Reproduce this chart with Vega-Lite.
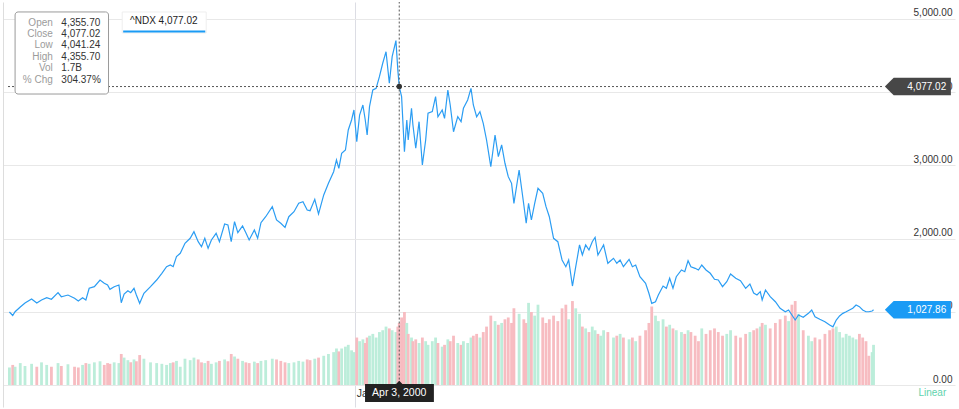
{
"$schema": "https://vega.github.io/schema/vega-lite/v6.json",
"width": 952, "height": 405,
"autosize": {"type": "none"},
"padding": {"left": 3, "top": 2, "right": 4, "bottom": 2},
"background": "white",
"config": {"font": "Liberation Sans", "view": {"stroke": null}},
"datasets": {
"p": [
{"t":"1997-12-29","c":997,"v":0.48,"u":1},{"t":"1998-01-05","c":950,"v":0.55,"u":0},{"t":"1998-01-10","c":1001,"v":0.5,"u":1},{"t":"1998-01-21","c":1066,"v":0.6,"u":1},{"t":"1998-01-31","c":1120,"v":0.52,"u":1},{"t":"1998-02-14","c":1175,"v":0.58,"u":1},{"t":"1998-02-25","c":1120,"v":0.5,"u":0},{"t":"1998-03-07","c":1161,"v":0.62,"u":1},{"t":"1998-03-18","c":1193,"v":0.55,"u":1},{"t":"1998-03-28","c":1171,"v":0.5,"u":0},
{"t":"1998-04-11","c":1261,"v":0.6,"u":1},{"t":"1998-04-18","c":1206,"v":0.52,"u":0},{"t":"1998-05-02","c":1229,"v":0.57,"u":1},{"t":"1998-05-16","c":1184,"v":0.5,"u":0},{"t":"1998-05-24","c":1148,"v":0.48,"u":0},{"t":"1998-06-02","c":1193,"v":0.55,"u":1},{"t":"1998-06-09","c":1161,"v":0.6,"u":0},{"t":"1998-06-16","c":1321,"v":0.58,"u":1},{"t":"1998-06-27","c":1343,"v":0.62,"u":1},{"t":"1998-07-09","c":1434,"v":0.65,"u":1},
{"t":"1998-07-18","c":1389,"v":0.55,"u":0},{"t":"1998-07-25","c":1366,"v":0.6,"u":0},{"t":"1998-07-30","c":1307,"v":0.58,"u":0},{"t":"1998-08-08","c":1343,"v":0.62,"u":1},{"t":"1998-08-18","c":1366,"v":0.6,"u":1},{"t":"1998-08-23","c":1124,"v":0.85,"u":0},{"t":"1998-08-29","c":1243,"v":0.75,"u":1},{"t":"1998-09-06","c":1288,"v":0.68,"u":1},{"t":"1998-09-12","c":1261,"v":0.62,"u":0},{"t":"1998-09-19","c":1321,"v":0.7,"u":1},
{"t":"1998-09-24","c":1229,"v":0.65,"u":0},{"t":"1998-10-01","c":1116,"v":0.82,"u":0},{"t":"1998-10-10","c":1253,"v":0.72,"u":1},{"t":"1998-10-24","c":1343,"v":0.62,"u":1},{"t":"1998-11-06","c":1434,"v":0.6,"u":1},{"t":"1998-11-17","c":1526,"v":0.58,"u":1},{"t":"1998-11-27","c":1616,"v":0.55,"u":1},{"t":"1998-12-05","c":1639,"v":0.6,"u":1},{"t":"1998-12-11","c":1616,"v":0.62,"u":0},{"t":"1998-12-18","c":1753,"v":0.66,"u":1},
{"t":"1998-12-26","c":1799,"v":0.5,"u":1},{"t":"1999-01-05","c":1936,"v":0.72,"u":1},{"t":"1999-01-16","c":2004,"v":0.68,"u":1},{"t":"1999-01-24","c":2094,"v":0.75,"u":1},{"t":"1999-02-02","c":1958,"v":0.7,"u":0},{"t":"1999-02-09","c":1889,"v":0.62,"u":0},{"t":"1999-02-16","c":2004,"v":0.6,"u":1},{"t":"1999-02-23","c":1867,"v":0.66,"u":0},{"t":"1999-03-02","c":1981,"v":0.58,"u":1},{"t":"1999-03-12","c":2072,"v":0.62,"u":1},
{"t":"1999-03-19","c":1958,"v":0.66,"u":0},{"t":"1999-03-30","c":2199,"v":0.7,"u":1},{"t":"1999-04-06","c":2186,"v":0.65,"u":0},{"t":"1999-04-13","c":1958,"v":0.85,"u":0},{"t":"1999-04-20","c":2231,"v":0.78,"u":1},{"t":"1999-04-27","c":2081,"v":0.72,"u":0},{"t":"1999-05-07","c":2172,"v":0.66,"u":1},{"t":"1999-05-14","c":2081,"v":0.62,"u":0},{"t":"1999-05-21","c":1981,"v":0.6,"u":0},{"t":"1999-06-01","c":2117,"v":0.64,"u":1},
{"t":"1999-06-08","c":2004,"v":0.6,"u":0},{"t":"1999-06-15","c":2217,"v":0.66,"u":1},{"t":"1999-06-25","c":2299,"v":0.68,"u":1},{"t":"1999-07-09","c":2436,"v":0.72,"u":1},{"t":"1999-07-18","c":2254,"v":0.7,"u":0},{"t":"1999-07-27","c":2209,"v":0.66,"u":0},{"t":"1999-08-05","c":2154,"v":0.62,"u":0},{"t":"1999-08-13","c":2299,"v":0.6,"u":1},{"t":"1999-08-24","c":2367,"v":0.62,"u":1},{"t":"1999-09-03","c":2482,"v":0.66,"u":1},
{"t":"1999-09-12","c":2504,"v":0.64,"u":1},{"t":"1999-09-21","c":2391,"v":0.7,"u":0},{"t":"1999-09-27","c":2381,"v":0.68,"u":0},{"t":"1999-10-07","c":2537,"v":0.72,"u":1},{"t":"1999-10-15","c":2336,"v":0.75,"u":0},{"t":"1999-10-26","c":2596,"v":0.8,"u":1},{"t":"1999-11-05","c":2755,"v":0.85,"u":1},{"t":"1999-11-16","c":2914,"v":0.9,"u":1},{"t":"1999-11-22","c":3074,"v":1.0,"u":1},{"t":"1999-11-27","c":2960,"v":0.92,"u":0},
{"t":"1999-12-03","c":3165,"v":1.0,"u":1},{"t":"1999-12-11","c":3210,"v":1.05,"u":1},{"t":"1999-12-17","c":3484,"v":1.1,"u":1},{"t":"1999-12-24","c":3620,"v":0.95,"u":1},{"t":"1999-12-29","c":3757,"v":0.9,"u":1},{"t":"2000-01-04","c":3324,"v":1.3,"u":0},{"t":"2000-01-10","c":3688,"v":1.2,"u":1},{"t":"2000-01-17","c":3825,"v":1.25,"u":1},{"t":"2000-01-22","c":3620,"v":1.15,"u":0},{"t":"2000-01-26","c":3415,"v":1.3,"u":0},
{"t":"2000-01-31","c":3802,"v":1.35,"u":1},{"t":"2000-02-07","c":4030,"v":1.4,"u":1},{"t":"2000-02-14","c":4053,"v":1.3,"u":1},{"t":"2000-02-21","c":4212,"v":1.45,"u":1},{"t":"2000-02-28","c":4395,"v":1.5,"u":1},{"t":"2000-03-06","c":4553,"v":1.6,"u":1},{"t":"2000-03-13","c":4122,"v":1.55,"u":0},{"t":"2000-03-19","c":4485,"v":1.5,"u":1},{"t":"2000-03-27","c":4704,"v":1.45,"u":1},{"t":"2000-03-31","c":4303,"v":1.6,"u":0},
{"t":"2000-04-03","c":4077.02,"v":1.7,"u":0},{"t":"2000-04-08","c":3939,"v":1.85,"u":0},{"t":"2000-04-14","c":3187,"v":2.0,"u":0},{"t":"2000-04-19","c":3620,"v":1.7,"u":1},{"t":"2000-04-22","c":3347,"v":1.4,"u":0},{"t":"2000-04-29","c":3780,"v":1.3,"u":1},{"t":"2000-05-02","c":3552,"v":1.2,"u":0},{"t":"2000-05-08","c":3234,"v":1.25,"u":0},{"t":"2000-05-15","c":3597,"v":1.15,"u":1},{"t":"2000-05-22","c":3005,"v":1.3,"u":0},
{"t":"2000-05-29","c":3347,"v":1.2,"u":1},{"t":"2000-06-03","c":3712,"v":1.1,"u":1},{"t":"2000-06-12","c":3734,"v":1.2,"u":1},{"t":"2000-06-19","c":3939,"v":1.3,"u":1},{"t":"2000-06-24","c":3665,"v":1.15,"u":0},{"t":"2000-07-03","c":3757,"v":1.05,"u":1},{"t":"2000-07-08","c":3643,"v":1.1,"u":0},{"t":"2000-07-15","c":4030,"v":1.25,"u":1},{"t":"2000-07-20","c":3825,"v":1.2,"u":0},{"t":"2000-07-27","c":3460,"v":1.35,"u":0},
{"t":"2000-08-05","c":3665,"v":1.15,"u":1},{"t":"2000-08-12","c":3597,"v":1.1,"u":0},{"t":"2000-08-17","c":3780,"v":1.2,"u":1},{"t":"2000-08-26","c":3893,"v":1.15,"u":1},{"t":"2000-09-02","c":4053,"v":1.3,"u":1},{"t":"2000-09-07","c":3825,"v":1.35,"u":0},{"t":"2000-09-14","c":3665,"v":1.4,"u":0},{"t":"2000-09-21","c":3734,"v":1.3,"u":1},{"t":"2000-09-28","c":3575,"v":1.45,"u":0},{"t":"2000-10-05","c":3347,"v":1.6,"u":0},
{"t":"2000-10-14","c":2982,"v":1.9,"u":0},{"t":"2000-10-23","c":3415,"v":1.75,"u":1},{"t":"2000-10-30","c":3119,"v":1.65,"u":0},{"t":"2000-11-06","c":3279,"v":1.7,"u":1},{"t":"2000-11-13","c":3029,"v":1.8,"u":0},{"t":"2000-11-20","c":2846,"v":1.85,"u":0},{"t":"2000-11-27","c":2755,"v":1.7,"u":0},{"t":"2000-12-02","c":2482,"v":2.1,"u":0},{"t":"2000-12-13","c":2937,"v":1.95,"u":1},{"t":"2000-12-23","c":2459,"v":1.8,"u":0},
{"t":"2000-12-28","c":2209,"v":1.7,"u":0},{"t":"2001-01-02","c":2482,"v":2.25,"u":1},{"t":"2001-01-08","c":2254,"v":2.0,"u":0},{"t":"2001-01-15","c":2482,"v":1.9,"u":1},{"t":"2001-01-22","c":2687,"v":2.2,"u":1},{"t":"2001-02-01","c":2619,"v":1.85,"u":0},{"t":"2001-02-08","c":2436,"v":1.7,"u":0},{"t":"2001-02-15","c":2299,"v":1.8,"u":0},{"t":"2001-02-24","c":2004,"v":1.9,"u":0},{"t":"2001-03-05","c":1958,"v":1.75,"u":0},
{"t":"2001-03-14","c":1708,"v":2.1,"u":0},{"t":"2001-03-22","c":1616,"v":2.2,"u":0},{"t":"2001-03-28","c":1708,"v":1.8,"u":1},{"t":"2001-04-05","c":1352,"v":2.3,"u":0},{"t":"2001-04-12","c":1616,"v":2.1,"u":1},{"t":"2001-04-20","c":1913,"v":1.95,"u":1},{"t":"2001-04-26","c":1776,"v":1.6,"u":0},{"t":"2001-05-03","c":1913,"v":1.55,"u":1},{"t":"2001-05-10","c":1844,"v":1.45,"u":0},{"t":"2001-05-17","c":1958,"v":1.6,"u":1},
{"t":"2001-05-23","c":2018,"v":1.5,"u":1},{"t":"2001-05-29","c":1776,"v":1.4,"u":0},{"t":"2001-06-04","c":1844,"v":1.35,"u":1},{"t":"2001-06-10","c":1913,"v":1.5,"u":1},{"t":"2001-06-19","c":1663,"v":1.45,"u":0},{"t":"2001-07-01","c":1731,"v":1.3,"u":1},{"t":"2001-07-08","c":1663,"v":1.35,"u":0},{"t":"2001-07-15","c":1708,"v":1.4,"u":1},{"t":"2001-07-22","c":1616,"v":1.3,"u":0},{"t":"2001-08-03","c":1717,"v":1.25,"u":1},
{"t":"2001-08-10","c":1616,"v":1.3,"u":0},{"t":"2001-08-17","c":1639,"v":1.2,"u":1},{"t":"2001-08-26","c":1479,"v":1.35,"u":0},{"t":"2001-09-07","c":1389,"v":1.5,"u":0},{"t":"2001-09-14","c":1253,"v":1.7,"u":0},{"t":"2001-09-20","c":1116,"v":2.15,"u":0},{"t":"2001-09-28","c":1138,"v":1.9,"u":1},{"t":"2001-10-04","c":1229,"v":1.75,"u":1},{"t":"2001-10-14","c":1352,"v":1.8,"u":1},{"t":"2001-10-21","c":1321,"v":1.6,"u":0},
{"t":"2001-10-28","c":1458,"v":1.65,"u":1},{"t":"2001-11-04","c":1321,"v":1.55,"u":0},{"t":"2001-11-11","c":1479,"v":1.5,"u":1},{"t":"2001-11-22","c":1571,"v":1.45,"u":1},{"t":"2001-11-29","c":1548,"v":1.4,"u":0},{"t":"2001-12-06","c":1698,"v":1.5,"u":1},{"t":"2001-12-12","c":1616,"v":1.45,"u":0},{"t":"2001-12-21","c":1594,"v":1.35,"u":0},{"t":"2001-12-28","c":1571,"v":1.2,"u":0},{"t":"2002-01-04","c":1639,"v":1.55,"u":1},
{"t":"2002-01-13","c":1571,"v":1.4,"u":0},{"t":"2002-01-22","c":1526,"v":1.5,"u":0},{"t":"2002-01-31","c":1444,"v":1.55,"u":0},{"t":"2002-02-08","c":1434,"v":1.45,"u":0},{"t":"2002-02-17","c":1343,"v":1.35,"u":0},{"t":"2002-02-26","c":1411,"v":1.4,"u":1},{"t":"2002-03-06","c":1516,"v":1.5,"u":1},{"t":"2002-03-17","c":1458,"v":1.35,"u":0},{"t":"2002-03-27","c":1425,"v":1.3,"u":0},{"t":"2002-04-07","c":1321,"v":1.4,"u":0},
{"t":"2002-04-16","c":1380,"v":1.45,"u":1},{"t":"2002-04-24","c":1257,"v":1.5,"u":0},{"t":"2002-05-01","c":1229,"v":1.55,"u":0},{"t":"2002-05-08","c":1275,"v":1.6,"u":1},{"t":"2002-05-12","c":1161,"v":1.7,"u":0},{"t":"2002-05-19","c":1298,"v":1.65,"u":1},{"t":"2002-05-29","c":1206,"v":1.55,"u":0},{"t":"2002-06-09","c":1138,"v":1.7,"u":0},{"t":"2002-06-19","c":1048,"v":1.8,"u":0},{"t":"2002-06-30","c":1001,"v":1.9,"u":0},
{"t":"2002-07-07","c":1025,"v":1.75,"u":1},{"t":"2002-07-14","c":956,"v":2.2,"u":0},{"t":"2002-07-21","c":888,"v":2.3,"u":0},{"t":"2002-07-28","c":956,"v":1.95,"u":1},{"t":"2002-08-07","c":925,"v":1.5,"u":0},{"t":"2002-08-18","c":979,"v":1.35,"u":1},{"t":"2002-08-25","c":1025,"v":1.2,"u":1},{"t":"2002-09-01","c":933,"v":1.3,"u":0},{"t":"2002-09-11","c":898,"v":1.25,"u":0},{"t":"2002-09-22","c":865,"v":1.4,"u":0},
{"t":"2002-10-02","c":820,"v":1.5,"u":0},{"t":"2002-10-09","c":795,"v":1.55,"u":0},{"t":"2002-10-16","c":888,"v":1.6,"u":1},{"t":"2002-10-23","c":943,"v":1.45,"u":1},{"t":"2002-10-30","c":979,"v":1.3,"u":1},{"t":"2002-11-06","c":1001,"v":1.4,"u":1},{"t":"2002-11-13","c":1025,"v":1.35,"u":1},{"t":"2002-11-20","c":1048,"v":1.3,"u":1},{"t":"2002-11-27","c":1093,"v":1.25,"u":1},{"t":"2002-12-04","c":1070,"v":1.4,"u":0},
{"t":"2002-12-11","c":1025,"v":1.3,"u":0},{"t":"2002-12-18","c":1001,"v":1.2,"u":0},{"t":"2002-12-24","c":1001,"v":0.8,"u":0},{"t":"2002-12-31","c":1010,"v":0.9,"u":1},{"t":"2003-01-03","c":1027.86,"v":1.1,"u":1}
]
},
"layer": [
{
"data": {"name": "p"},
"mark": {"type": "bar", "size": 2.8},
"encoding": {
"x": {"field": "t", "type": "temporal", "title": null, "scale": {"domain": [{"year": 1997, "month": 12, "date": 26}, {"year": 2003, "month": 6, "date": 14}], "nice": false}},
"y": {"field": "v", "type": "quantitative", "title": null, "scale": {"domain": [-0.603, 10.493], "nice": false, "zero": false}, "axis": {"orient": "left", "labels": false, "ticks": false, "grid": false, "domain": true, "domainColor": "#dddddd", "title": null}},
"y2": {"datum": 0},
"color": {"field": "u", "type": "nominal", "scale": {"domain": [0, 1], "range": ["#f7bcc1", "#bcedda"]}, "legend": null}
}
},
{
"layer": [
{
"data": {"name": "p"},
"mark": {"type": "line", "color": "#2b9df3", "strokeWidth": 1.2},
"encoding": {
"x": {"field": "t", "type": "temporal", "title": null, "scale": {"domain": [{"year": 1997, "month": 12, "date": 26}, {"year": 2003, "month": 6, "date": 14}], "nice": false},
"axis": {"values": [{"year": 2000, "month": 1, "date": 1}], "format": "%b %Y", "labelAlign": "left", "labelOffset": 1, "labelPadding": -14, "labelBaseline": "middle", "labelColor": "#333333", "labelFontSize": 10.5, "ticks": false, "domain": false, "grid": true, "gridColor": "#dcdde4", "title": null}},
"y": {"field": "c", "type": "quantitative", "title": null, "scale": {"domain": [-300.5, 5232], "nice": false, "zero": false},
"axis": {"orient": "right", "values": [0, 1000, 2000, 3000, 4000, 5000], "format": ",.2f", "labelAlign": "right", "labelPadding": -3, "labelBaseline": "alphabetic", "labelOffset": -3, "labelColor": "#333333", "labelFontSize": 10, "labelOverlap": false, "ticks": false, "domain": false, "grid": true, "gridColor": "#e8e8e8", "title": null}}
}
},
{
"data": {"values": [{"t": "2000-04-03", "c": 20, "c2": 5232}]},
"mark": {"type": "rule", "color": "#555555", "strokeDash": [2, 2], "strokeWidth": 1},
"encoding": {"x": {"field": "t", "type": "temporal", "title": null}, "y": {"field": "c", "type": "quantitative", "title": null}, "y2": {"field": "c2"}}
},
{
"data": {"values": [{"t": "1997-12-26", "t2": "2003-01-24", "c": 4077.02}]},
"mark": {"type": "rule", "color": "#555555", "strokeDash": [2, 2], "strokeWidth": 1},
"encoding": {"x": {"field": "t", "type": "temporal", "title": null}, "x2": {"field": "t2"}, "y": {"field": "c", "type": "quantitative", "title": null}}
},
{
"data": {"values": [{"t": "2000-04-03", "c": 4077.02}]},
"mark": {"type": "point", "filled": true, "color": "#333333", "size": 30, "opacity": 1},
"encoding": {"x": {"field": "t", "type": "temporal", "title": null}, "y": {"field": "c", "type": "quantitative", "title": null}}
},
{
"data": {"values": [{"t": "1998-01-10", "t2": "1998-07-27", "c": 5096, "c2": 3975}]},
"mark": {"type": "rect", "fill": "white", "stroke": "#9a9a9a", "strokeWidth": 1, "cornerRadius": 3},
"encoding": {"x": {"field": "t", "type": "temporal", "title": null}, "x2": {"field": "t2"}, "y": {"field": "c", "type": "quantitative", "title": null}, "y2": {"field": "c2"}}
},
{
"data": {"values": [{"t": "1998-03-31", "c": 4949, "s": "Open"}, {"t": "1998-03-31", "c": 4799, "s": "Close"}, {"t": "1998-03-31", "c": 4641, "s": "Low"}, {"t": "1998-03-31", "c": 4485, "s": "High"}, {"t": "1998-03-31", "c": 4326, "s": "Vol"}, {"t": "1998-03-31", "c": 4167, "s": "% Chg"}]},
"mark": {"type": "text", "align": "right", "baseline": "middle", "fontSize": 10, "color": "#9b9b9b"},
"encoding": {"x": {"field": "t", "type": "temporal", "title": null}, "y": {"field": "c", "type": "quantitative", "title": null}, "text": {"field": "s"}}
},
{
"data": {"values": [{"t": "1998-04-18", "c": 4949, "s": "4,355.70"}, {"t": "1998-04-18", "c": 4799, "s": "4,077.02"}, {"t": "1998-04-18", "c": 4641, "s": "4,041.24"}, {"t": "1998-04-18", "c": 4485, "s": "4,355.70"}, {"t": "1998-04-18", "c": 4326, "s": "1.7B"}, {"t": "1998-04-18", "c": 4167, "s": "304.37%"}]},
"mark": {"type": "text", "align": "left", "baseline": "middle", "fontSize": 10, "color": "#333333"},
"encoding": {"x": {"field": "t", "type": "temporal", "title": null}, "y": {"field": "c", "type": "quantitative", "title": null}, "text": {"field": "s"}}
},
{
"data": {"values": [{"t": "1998-08-25", "t2": "1999-02-19", "c": 5096, "c2": 4809}]},
"mark": {"type": "rect", "fill": "white", "stroke": "#eeeeee", "strokeWidth": 1},
"encoding": {"x": {"field": "t", "type": "temporal", "title": null}, "x2": {"field": "t2"}, "y": {"field": "c", "type": "quantitative", "title": null}, "y2": {"field": "c2"}}
},
{
"data": {"values": [{"t": "1998-11-21", "c": 4973, "s": "^NDX 4,077.02"}]},
"mark": {"type": "text", "align": "center", "baseline": "middle", "fontSize": 10, "color": "#222222"},
"encoding": {"x": {"field": "t", "type": "temporal", "title": null}, "y": {"field": "c", "type": "quantitative", "title": null}, "text": {"field": "s"}}
},
{
"data": {"values": [{"t": "1998-08-27", "t2": "1999-02-17", "c": 4829}]},
"mark": {"type": "rule", "color": "#1a9bf5", "strokeWidth": 2},
"encoding": {"x": {"field": "t", "type": "temporal", "title": null}, "x2": {"field": "t2"}, "y": {"field": "c", "type": "quantitative", "title": null}}
},
{
"data": {"values": [{"t": "2003-01-27", "c": 4077.02, "k": "cross"}, {"t": "2003-01-27", "c": 1027.86, "k": "last"}]},
"mark": {"type": "point", "filled": true, "opacity": 1, "strokeWidth": 0, "size": 256, "shape": "M 0 0 L 1.1 -1.1 L 8.25 -1.1 L 8.25 1.1 L 1.1 1.1 Z"},
"encoding": {"x": {"field": "t", "type": "temporal", "title": null}, "y": {"field": "c", "type": "quantitative", "title": null},
"fill": {"field": "k", "type": "nominal", "scale": {"domain": ["cross", "last"], "range": ["#474747", "#1a9bf5"]}, "legend": null}}
},
{
"data": {"values": [{"t": "2003-06-06", "c": 4077.02, "s": "4,077.02"}, {"t": "2003-06-06", "c": 1027.86, "s": "1,027.86"}]},
"mark": {"type": "text", "align": "right", "baseline": "middle", "fontSize": 10, "color": "white"},
"encoding": {"x": {"field": "t", "type": "temporal", "title": null}, "y": {"field": "c", "type": "quantitative", "title": null}, "text": {"field": "s"}}
},
{
"data": {"values": [{"t": "2000-04-03", "c": -109}]},
"mark": {"type": "point", "filled": true, "opacity": 1, "strokeWidth": 0, "size": 324, "color": "#222222", "shape": "M -3.8 -1 L -0.35 -1 L 0 -1.35 L 0.35 -1 L 3.85 -1 L 3.85 1 L -3.8 1 Z"},
"encoding": {"x": {"field": "t", "type": "temporal", "title": null}, "y": {"field": "c", "type": "quantitative", "title": null}}
},
{
"data": {"values": [{"t": "2000-04-03", "c": -109, "s": "Apr 3, 2000"}]},
"mark": {"type": "text", "align": "center", "baseline": "middle", "fontSize": 10.5, "color": "white"},
"encoding": {"x": {"field": "t", "type": "temporal", "title": null}, "y": {"field": "c", "type": "quantitative", "title": null}, "text": {"field": "s"}}
},
{
"data": {"values": [{"t": "2003-06-06", "c": -109, "s": "Linear"}]},
"mark": {"type": "text", "align": "right", "baseline": "middle", "fontSize": 10, "color": "#5fd3ad"},
"encoding": {"x": {"field": "t", "type": "temporal", "title": null}, "y": {"field": "c", "type": "quantitative", "title": null}, "text": {"field": "s"}}
}
]
}
],
"resolve": {"scale": {"y": "independent"}, "axis": {"y": "independent"}}
}
